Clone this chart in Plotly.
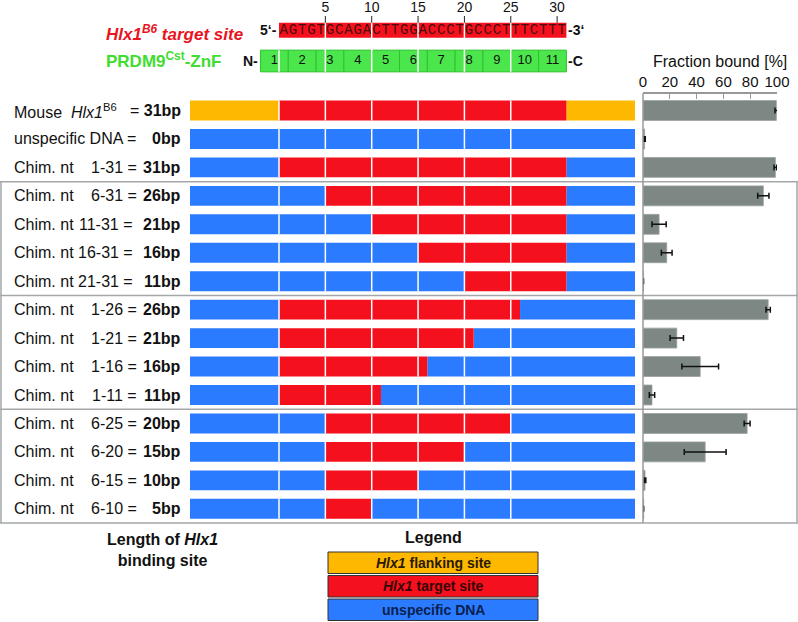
import plotly.graph_objects as go

# ---- data -------------------------------------------------------------
row_prefix = ["Mouse  <i>Hlx1</i><sup>B6</sup>", "unspecific DNA ="] + ["Chim. nt"] * 13
row_range = ["", "", "1-31", "6-31", "11-31", "16-31", "21-31",
             "1-26", "1-21", "1-16", "1-11", "6-25", "6-20", "6-15", "6-10"]
site_bp = [31, 0, 31, 26, 21, 16, 11, 26, 21, 16, 11, 20, 15, 10, 5]
target_from = [1, 0, 1, 6, 11, 16, 21, 1, 1, 1, 1, 6, 6, 6, 6]
target_to = [31, 0, 31, 31, 31, 31, 31, 26, 21, 16, 11, 25, 20, 15, 10]
flank_type = ["flank"] + ["unspecific"] * 14

fraction_bound = [99.5, 1.2, 98.8, 89.8, 12.0, 17.7, 0.4, 93.4, 25.2, 42.7, 6.7, 77.7, 46.4, 1.5, 0.5]
fraction_err = [1.0, 0.5, 1.0, 4.2, 5.3, 4.0, 0.0, 1.6, 5.0, 13.7, 2.0, 2.2, 15.6, 0.6, 0.0]

sequence = "AGTGTGCAGACTTGGACCCTGCCCTTTCTTT"
seq_ticks = [5, 10, 15, 20, 25, 30]
znf_fingers = [1, 2, 3, 4, 5, 6, 7, 8, 9, 10, 11]
block_edges = [0, 5, 10, 15, 20, 25]

legend_items = ["<i>Hlx1</i> flanking site", "<i>Hlx1</i> target site", "unspecific DNA"]

# ---- style / geometry -------------------------------------------------
W, H = 798, 622
ROW0, ROW_STEP = 110.5, 28.45          # pixel centre of first row, row pitch
NT_MIN, NT_MAX = -9.6, 38.4            # schematic extent in nt units
BAR_W = 0.7

ORANGE = "#FFB800"
RED = "#F5101E"
BLUE = "#2A7BFF"
GREEN = "#4BE64B"
GREY_BAR = "#7D8784"
BOX_LINE = "#A3A7A9"
FONT = "Arial, Liberation Sans, sans-serif"
LBL = 16


def row_at(px):
    # pixel height -> row units on the shared y axis
    return (px - ROW0) / ROW_STEP


SEQ_Y, SEQ_H = row_at(30.2), 15.0 / ROW_STEP
ZNF_Y, ZNF_H = row_at(61), 21.7 / ROW_STEP

fig = go.Figure()

# DNA schematic bars, grouped by colour
colour_of = {"flank": ORANGE, "unspecific": BLUE, "target": RED}
segs = {"flank": ([], [], []), "unspecific": ([], [], []), "target": ([], [], [])}
for i in range(len(site_bp)):
    pieces = []
    if target_to[i] == 0:
        pieces.append((NT_MIN, NT_MAX, flank_type[i]))
    else:
        a, b = target_from[i] - 1, target_to[i]
        pieces += [(NT_MIN, a, flank_type[i]), (a, b, "target"), (b, NT_MAX, flank_type[i])]
    for s, e, kind in pieces:
        segs[kind][0].append(i)
        segs[kind][1].append(s)
        segs[kind][2].append(e - s)

for kind, (ys, bases, lens) in segs.items():
    fig.add_trace(go.Bar(orientation="h", y=ys, base=bases, x=lens, width=BAR_W,
                         marker=dict(color=colour_of[kind], line=dict(width=0)),
                         hoverinfo="skip"))

# header: target sequence box and zinc fingers
fig.add_trace(go.Bar(orientation="h", y=[SEQ_Y], base=[0], x=[31], width=SEQ_H,
                     marker=dict(color=RED, line=dict(width=0)), hoverinfo="skip"))
fig.add_trace(go.Bar(orientation="h", y=[ZNF_Y] * len(znf_fingers),
                     base=[-2 + 3 * (k - 1) for k in znf_fingers], x=[3] * len(znf_fingers),
                     width=ZNF_H, marker=dict(color=GREEN, line=dict(color="#2FC22F", width=1)),
                     hoverinfo="skip"))

# white block separators every 5 nt
sx, sy = [], []
for e in block_edges:
    for i in range(len(site_bp)):
        sx += [e, e, None]
        sy += [i - BAR_W / 2, i + BAR_W / 2, None]
    sx += [e, e, None]
    sy += [SEQ_Y - SEQ_H / 2 if e > 0 else ZNF_Y - ZNF_H / 2, ZNF_Y + ZNF_H / 2, None]
fig.add_trace(go.Scatter(x=sx, y=sy, mode="lines", line=dict(color="white", width=1.5),
                         hoverinfo="skip"))

# sequence letters and finger numbers
fig.add_trace(go.Scatter(x=[k + 0.5 for k in range(len(sequence))], y=[SEQ_Y] * len(sequence),
                         mode="text", text=list(sequence),
                         textfont=dict(family="Liberation Mono, Courier New, monospace",
                                       size=14, color="#4a0c0c"), hoverinfo="skip"))
fig.add_trace(go.Scatter(x=[-0.5 + 3 * (k - 1) for k in znf_fingers], y=[ZNF_Y] * len(znf_fingers),
                         mode="text", text=[str(k) for k in znf_fingers],
                         textfont=dict(family=FONT, size=13, color="#111"), hoverinfo="skip"))

# position ticks above the sequence
tx, ty = [], []
for t in seq_ticks:
    tx += [t, t, None]
    ty += [row_at(16), SEQ_Y - SEQ_H / 2, None]
fig.add_trace(go.Scatter(x=tx, y=ty, mode="lines", line=dict(color="#222", width=1),
                         hoverinfo="skip"))
fig.add_trace(go.Scatter(x=seq_ticks, y=[row_at(8)] * len(seq_ticks), mode="text",
                         text=[str(t) for t in seq_ticks],
                         textfont=dict(family=FONT, size=14, color="#111"), hoverinfo="skip"))

# fraction bound bars
fig.add_trace(go.Bar(orientation="h", y=list(range(len(fraction_bound))), x=fraction_bound,
                     width=BAR_W, xaxis="x2", yaxis="y", cliponaxis=False,
                     marker=dict(color=GREY_BAR, line=dict(color="#9aa19e", width=0.8)),
                     error_x=dict(type="data", array=fraction_err, color="#111",
                                  thickness=1.5, width=3),
                     hoverinfo="skip"))

# ---- annotations ------------------------------------------------------
ann = []
for i in range(len(site_bp)):
    ann.append(dict(x=12 / W, xref="paper", y=i, yref="y", xanchor="left",
                    text=row_prefix[i], showarrow=False,
                    font=dict(family=FONT, size=LBL, color="#111")))
    if row_range[i]:
        # "=" sits a little further left when the range starts with two digits
        eq_right = 139 if len(row_range[i]) == 4 else 135
        ann.append(dict(x=eq_right / W, xref="paper", y=i, yref="y", xanchor="right",
                        text=f"{row_range[i]} =", showarrow=False,
                        font=dict(family=FONT, size=LBL, color="#111")))
        right = f"<b>{site_bp[i]}bp</b>"
    elif i == 0:
        right = f"= <b>{site_bp[i]}bp</b>"
    else:
        right = f"<b>{site_bp[i]}bp</b>"
    ann.append(dict(x=183 / W, xref="paper", y=i, yref="y", xanchor="right",
                    text=right, showarrow=False,
                    font=dict(family=FONT, size=LBL, color="#111")))

ann += [
    dict(x=104 / W, xref="paper", y=row_at(33), yref="y", xanchor="left", showarrow=False,
         text="<b><i>Hlx1<sup>B6</sup> target site</i></b>",
         font=dict(family=FONT, size=17, color="#E8141E")),
    dict(x=104 / W, xref="paper", y=row_at(60), yref="y", xanchor="left", showarrow=False,
         text="<b>PRDM9<sup>Cst</sup>-ZnF</b>", font=dict(family=FONT, size=17, color="#3FDD2F")),
    dict(x=0, xref="x", y=SEQ_Y, yref="y", xanchor="right", showarrow=False,
         text="<b>5\u2018-</b>", font=dict(family=FONT, size=14, color="#111")),
    dict(x=31, xref="x", y=SEQ_Y, yref="y", xanchor="left", showarrow=False,
         text="<b>-3\u2018</b>", font=dict(family=FONT, size=14, color="#111")),
    dict(x=-2, xref="x", y=ZNF_Y, yref="y", xanchor="right", showarrow=False,
         text="<b>N-</b>", font=dict(family=FONT, size=14, color="#111")),
    dict(x=31, xref="x", y=ZNF_Y, yref="y", xanchor="left", showarrow=False,
         text="<b>-C</b>", font=dict(family=FONT, size=14, color="#111")),
    dict(x=720 / W, xref="paper", y=row_at(61), yref="y", xanchor="center", showarrow=False,
         text="Fraction bound [%]", font=dict(family=FONT, size=16, color="#111")),
    dict(x=162 / W, xref="paper", y=row_at(550), yref="y", xanchor="center", showarrow=False,
         text="<b>Length of <i>Hlx1</i><br>binding site</b>",
         font=dict(family=FONT, size=16, color="#111")),
    dict(x=433 / W, xref="paper", y=row_at(537), yref="y", xanchor="center", showarrow=False,
         text="<b>Legend</b>", font=dict(family=FONT, size=16, color="#111")),
]

# legend boxes
shapes = []
leg_cols = [ORANGE, RED, BLUE]
leg_text_cols = ["#2a1a00", "#3a0505", "#0b1f4f"]
leg_tops = [552, 575.5, 599]
for k, txt in enumerate(legend_items):
    y0, y1 = row_at(leg_tops[k]), row_at(leg_tops[k] + 21.5)
    shapes.append(dict(type="rect", xref="paper", yref="y", x0=328 / W, x1=538 / W, y0=y0, y1=y1,
                       fillcolor=leg_cols[k], line=dict(color="#333", width=1)))
    ann.append(dict(x=433 / W, xref="paper", y=(y0 + y1) / 2, yref="y", xanchor="center",
                    showarrow=False, text=f"<b>{txt}</b>",
                    font=dict(family=FONT, size=14, color=leg_text_cols[k])))

# group boxes around the chimeric series
for yb in [2.5, 6.5, 10.5, 14.5]:
    shapes.append(dict(type="line", xref="paper", yref="y", x0=0, x1=1, y0=yb, y1=yb,
                       line=dict(color=BOX_LINE, width=1.5)))
for xb in [1 / W, 797 / W]:
    shapes.append(dict(type="line", xref="paper", yref="y", x0=xb, x1=xb, y0=2.5, y1=14.5,
                       line=dict(color=BOX_LINE, width=1.5)))
# y axis line of the bar chart
shapes.append(dict(type="line", xref="paper", yref="y", x0=643 / W, x1=643 / W,
                   y0=row_at(93.3), y1=14.5, line=dict(color="#999", width=1.5)))

fig.update_layout(
    width=W, height=H,
    margin=dict(l=0, r=0, t=0, b=0, autoexpand=False),
    paper_bgcolor="white", plot_bgcolor="rgba(0,0,0,0)",
    barmode="overlay", showlegend=False,
    xaxis=dict(domain=[190 / W, 635 / W], range=[NT_MIN, NT_MAX], visible=False),
    xaxis2=dict(domain=[643 / W, 777 / W], range=[0, 100], anchor="free",
                position=1 - 93.3 / H, side="top", showline=True, linecolor="#999",
                linewidth=1.5, ticks="inside", ticklen=5, tickcolor="#999",
                tickvals=[0, 20, 40, 60, 80, 100], showgrid=False, zeroline=False,
                automargin=False, tickfont=dict(family=FONT, size=15, color="#111")),
    yaxis=dict(domain=[0, 1], range=[row_at(H), row_at(0)], visible=False),
    annotations=ann, shapes=shapes,
)

# drop the default page margin so the figure sits at the window's top-left corner
fix_page = ("document.body.style.margin='0';document.body.style.overflow='hidden';"
            "Plotly.relayout(document.getElementById('{plot_id}'), {width: %d, height: %d});" % (W, H))
fig.write_html("out.html", config={"responsive": False, "displayModeBar": False},
               post_script=fix_page)
